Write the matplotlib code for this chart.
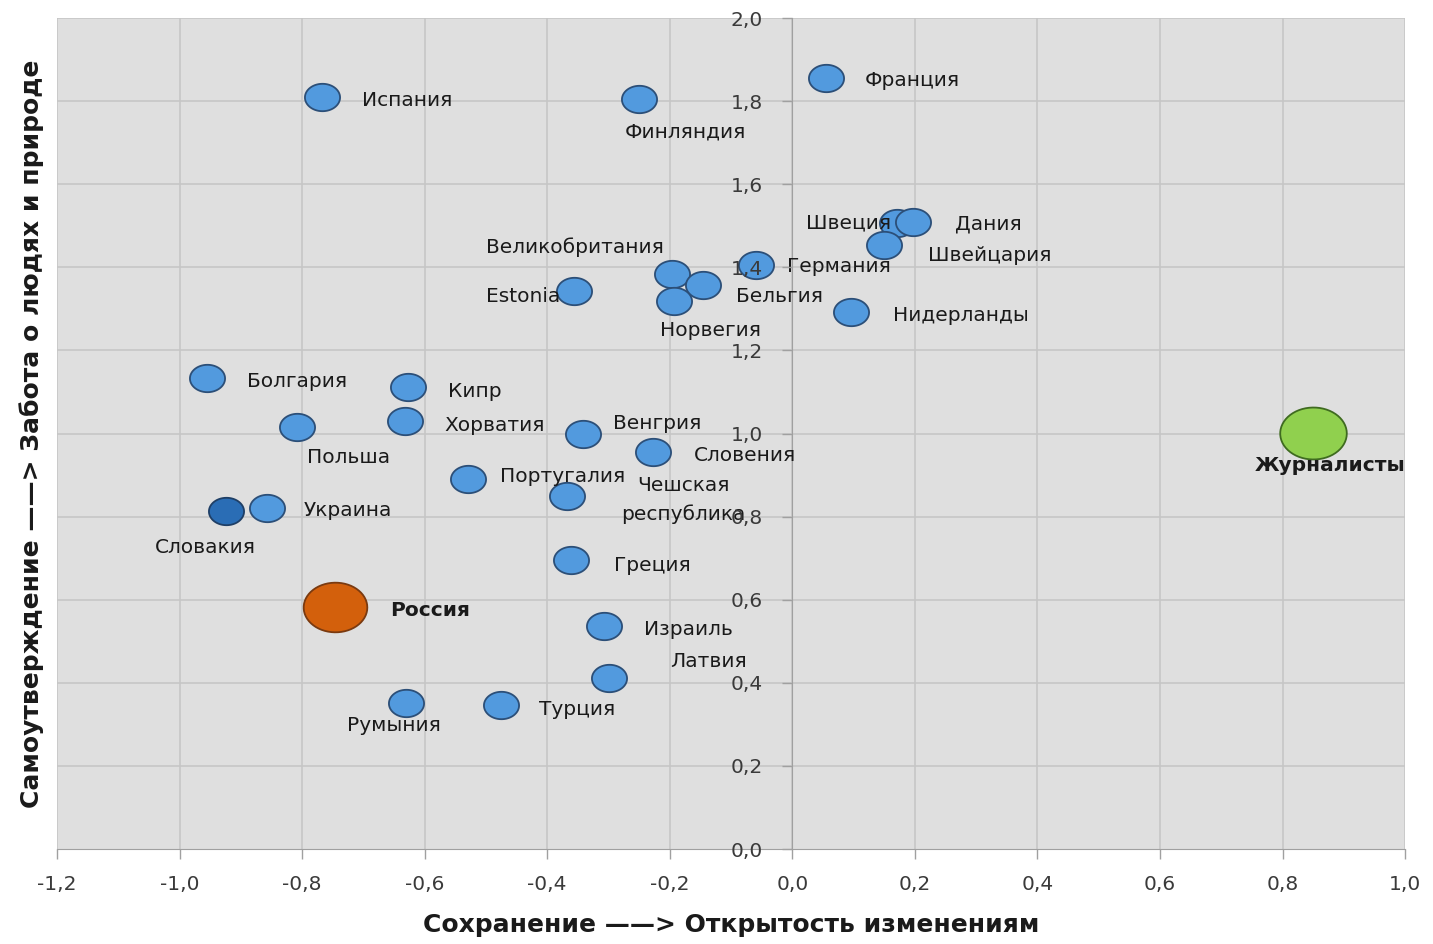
import numpy as np
import matplotlib.pyplot as plt
from matplotlib.path import Path
from matplotlib.ticker import FuncFormatter, MultipleLocator

# Data
countries = ["Испания", "Финляндия", "Франция", "Швеция", "Дания", "Швейцария",
             "Германия", "Великобритания", "Бельгия", "Норвегия", "Estonia",
             "Нидерланды", "Болгария", "Кипр", "Хорватия", "Польша", "Венгрия",
             "Словения", "Португалия", "Чешская\nреспублика", "Украина",
             "Греция", "Израиль", "Латвия", "Румыния", "Турция"]
openness = [-0.767, -0.251, 0.055, 0.171, 0.197, 0.150,
            -0.060, -0.196, -0.145, -0.193, -0.356,
            0.096, -0.955, -0.628, -0.632, -0.808, -0.341,
            -0.227, -0.530, -0.367, -0.858,
            -0.362, -0.307, -0.299, -0.630, -0.475]
care = [1.810, 1.805, 1.855, 1.507, 1.509, 1.454,
        1.406, 1.384, 1.357, 1.319, 1.343,
        1.292, 1.134, 1.112, 1.030, 1.016, 0.999,
        0.955, 0.890, 0.850, 0.821,
        0.696, 0.537, 0.412, 0.351, 0.347]

slovakia_x, slovakia_y = [-0.924], [0.813]
russia_x, russia_y = [-0.746], [0.582]
journalists_x, journalists_y = [0.850], [1.001]

# label offsets in pixels (dx right, dy up) and alignment
label_layout = {
    "Испания": (40, -4, "left"), "Финляндия": (47, -33, "center"),
    "Франция": (39, -2, "left"), "Швеция": (-6, 0, "right"),
    "Дания": (42, -2, "left"), "Швейцария": (44, -11, "left"),
    "Германия": (31, -2, "left"), "Великобритания": (-97, 27, "center"),
    "Бельгия": (33, -11, "left"), "Норвегия": (36, -30, "center"),
    "Estonia": (-14, -5, "right"), "Нидерланды": (42, -3, "left"),
    "Болгария": (40, -4, "left"), "Кипр": (40, -5, "left"),
    "Хорватия": (39, -4, "left"), "Польша": (51, -31, "center"),
    "Венгрия": (30, 10, "left"), "Словения": (41, -3, "left"),
    "Португалия": (32, 3, "left"), "Чешская\nреспублика": (116, -4, "center"),
    "Украина": (37, -3, "left"), "Греция": (43, -6, "left"),
    "Израиль": (40, -4, "left"), "Латвия": (61, 16, "left"),
    "Румыния": (-12, -22, "center"), "Турция": (38, -5, "left"),
}

# horizontally stretched circle, like the original picture
t = np.linspace(0, 2 * np.pi, 60)
ellipse = Path(np.column_stack([np.cos(t), 0.78 * np.sin(t)]), closed=True)

fig = plt.figure(figsize=(14.33, 9.44), dpi=100)
ax = fig.add_axes([0.0398, 0.1006, 0.9407, 0.8803])
ax.set_facecolor("#dfdfdf")

ax.scatter(openness, care, s=640, marker=ellipse, color="#529ade",
           edgecolor="#2c4f78", linewidth=1.3, zorder=3)
ax.scatter(slovakia_x, slovakia_y, s=640, marker=ellipse, color="#2a6db5",
           edgecolor="#1f3f66", linewidth=1.3, zorder=3)
ax.scatter(russia_x, russia_y, s=2100, marker=ellipse, color="#d3600c",
           edgecolor="#7a3a10", linewidth=1.3, zorder=3)
ax.scatter(journalists_x, journalists_y, s=2300, marker=ellipse, color="#90d04e",
           edgecolor="#3f6b20", linewidth=1.3, zorder=3)

fs = 14.5
for name, x, y in zip(countries, openness, care):
    dx, dy, ha = label_layout[name]
    ax.annotate(name, (x, y), xytext=(dx * 0.72, dy * 0.72),
                textcoords="offset points", ha=ha, va="center",
                fontsize=fs, color="#1a1a1a", linespacing=1.55, zorder=4)

ax.annotate("Словакия", (slovakia_x[0], slovakia_y[0]), xytext=(-21 * 0.72, -36 * 0.72),
            textcoords="offset points", ha="center", va="center",
            fontsize=fs, color="#1a1a1a", zorder=4)
ax.annotate("Россия", (russia_x[0], russia_y[0]), xytext=(55 * 0.72, -3 * 0.72),
            textcoords="offset points", ha="left", va="center",
            fontsize=fs, fontweight="bold", color="#1a1a1a", zorder=4)
ax.annotate("Журналисты", (journalists_x[0], journalists_y[0]), xytext=(17 * 0.72, -32 * 0.72),
            textcoords="offset points", ha="center", va="center",
            fontsize=fs, fontweight="bold", color="#1a1a1a", zorder=4)

ax.set_xlim(-1.2, 1.0)
ax.set_ylim(0.0, 2.0)
ax.xaxis.set_major_locator(MultipleLocator(0.2))
ax.yaxis.set_major_locator(MultipleLocator(0.2))
comma = FuncFormatter(lambda v, pos: f"{v:.1f}".replace(".", ",").replace("-0,0", "0,0"))
ax.xaxis.set_major_formatter(comma)
ax.yaxis.set_major_formatter(comma)

# vertical grid from the axis, horizontal grid drawn separately so the
# y tick labels (sitting in the middle of the plot) can go above the markers
ax.grid(True, axis="x", color="#c6c6c6", linewidth=1.2, zorder=0)
ax.set_axisbelow(True)
for yv in ax.get_yticks():
    if 0 < yv <= ax.get_ylim()[1]:
        ax.axhline(yv, color="#c6c6c6", linewidth=1.2, zorder=0.5)
ax.yaxis.set_zorder(5)

for side in ("top", "right"):
    ax.spines[side].set_visible(False)
ax.spines["left"].set_position(("data", 0))
ax.spines["left"].set_color("#a0a0a0")
ax.spines["bottom"].set_color("#a0a0a0")
ax.spines["left"].set_zorder(1)

ax.tick_params(axis="x", direction="out", length=7, width=1, color="#a0a0a0",
               pad=12, labelsize=fs, labelcolor="#3a3a3a")
ax.tick_params(axis="y", direction="out", length=7, width=1, color="#a0a0a0",
               pad=14, labelsize=fs, labelcolor="#3a3a3a")

ax.set_xlabel("Сохранение ——> Открытость изменениям", fontsize=18,
              fontweight="bold", color="#1a1a1a")
ax.xaxis.set_label_coords(0.5, -0.077)
ax.set_ylabel("Самоутверждение ——> Забота о людях и природе", fontsize=18,
              fontweight="bold", color="#1a1a1a")
ax.yaxis.set_label_coords(-0.0096, 0.5)

fig.savefig("out.png", dpi=100)
